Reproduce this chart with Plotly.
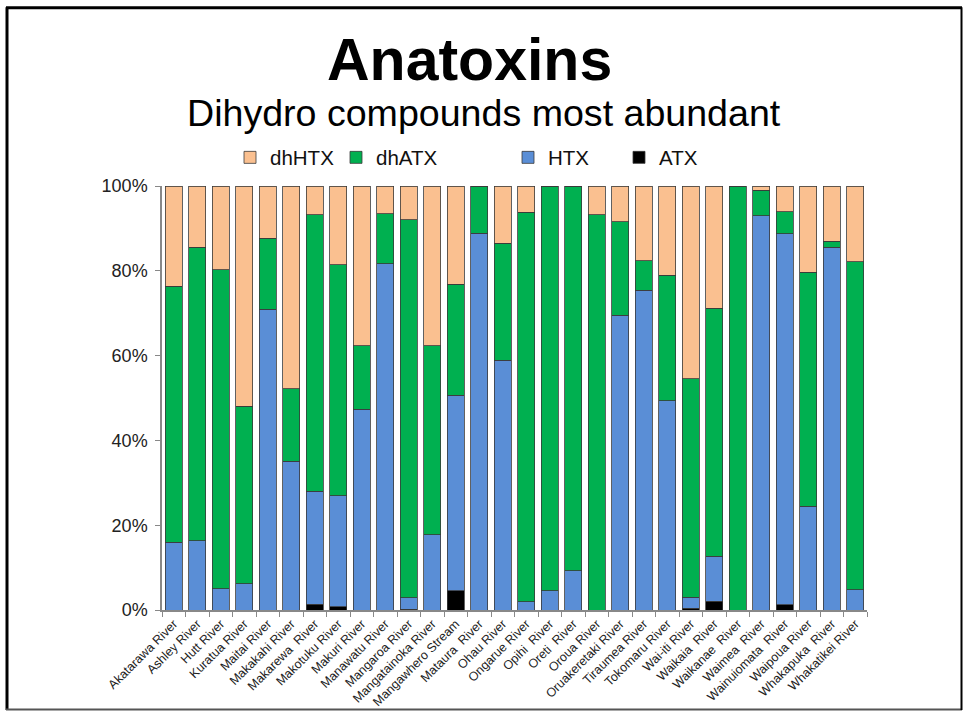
import plotly.graph_objects as go

categories = [
    "Akatarawa River", "Ashley River", "Hutt River", "Kuratua River", "Maitai River",
    "Makakahi River", "Makarewa\u00a0 River", "Makotuku River", "Makuri River", "Manawatu River",
    "Mangaroa River", "Mangatainoka River", "Mangawhero Stream", "Mataura\u00a0 River", "Ohau River",
    "Ongarue River", "Opihi\u00a0 River", "Oreti\u00a0 River", "Oroua River", "Oruakeretaki River",
    "Tiraumea River", "Tokomaru River", "Wai-iti River", "Waikaia\u00a0 River", "Waikanae\u00a0 River",
    "Waimea\u00a0 River", "Wainuiomata\u00a0 River", "Waipoua River", "Whakapuka\u00a0 River", "Whakatikei River",
]

atx = [0, 0, 0, 0, 0, 0, 1.4, 0.8, 0, 0, 0.2, 0, 4.5, 0, 0,
       0, 0, 0, 0, 0, 0, 0, 0.4, 2.1, 0, 0, 1.2, 0, 0, 0]
htx = [16.0, 16.3, 5.0, 6.2, 70.9, 35.1, 26.6, 26.2, 47.3, 81.7, 2.7, 17.7, 46.2, 88.8, 58.9,
       1.9, 4.5, 9.2, 0, 69.5, 75.4, 49.4, 2.6, 10.6, 0, 93.0, 87.5, 24.5, 85.5, 4.8]
dhatx = [60.4, 69.2, 75.3, 41.9, 16.8, 17.1, 65.2, 54.4, 15.0, 11.7, 89.2, 44.6, 26.1, 11.1, 27.6,
         91.9, 95.5, 90.8, 93.2, 22.1, 7.0, 29.5, 51.6, 58.5, 100, 6.0, 5.2, 55.2, 1.5, 77.3]
dhhtx = [23.6, 14.5, 19.7, 51.9, 12.3, 47.8, 6.8, 18.6, 37.7, 6.6, 7.9, 37.7, 23.2, 0.1, 13.5,
         6.2, 0, 0, 6.8, 8.4, 17.6, 21.1, 45.4, 28.8, 0, 1.0, 6.1, 20.3, 13.0, 17.9]

series = [
    ("ATX", atx, "#000000", "legend4"),
    ("HTX", htx, "#5A8ED6", "legend3"),
    ("dhATX", dhatx, "#00B050", "legend2"),
    ("dhHTX", dhhtx, "#FAC090", "legend"),
]

FONT = "Liberation Sans, Arial, sans-serif"

fig = go.Figure()
for name, vals, color, leg in series:
    fig.add_trace(go.Bar(
        x=categories, y=vals, name=name, legend=leg,
        marker=dict(color=color, line=dict(color="#3a3a3a", width=0.8)),
    ))

# plot area in pixels: x 162..867, y 186..618
L, R, T, B = 162, 96, 186, 103
W, H = 963 - L - R, 721 - T - B


def px_x(p):
    return (p - L) / W


def px_y(p):
    return (721 - B - p) / H


leg_common = dict(orientation="h", yanchor="middle", xanchor="left",
                  font=dict(family=FONT, size=20.5, color="#111"),
                  bgcolor="rgba(0,0,0,0)", itemwidth=30)
legends = {}
# legend text starts ~40px right of the legend's left edge
for key, text_left in [("legend", 268), ("legend2", 374), ("legend3", 546), ("legend4", 657)]:
    legends[key] = dict(leg_common, x=px_x(text_left - 38), y=px_y(157))

fig.update_layout(
    width=963, height=721,
    margin=dict(l=L, r=R, t=T, b=B, pad=0),
    paper_bgcolor="white", plot_bgcolor="white",
    barmode="stack", bargap=0.29,
    font=dict(family=FONT, color="#222"),
    showlegend=True,
    **legends,
    xaxis=dict(
        type="category", tickangle=-45, tickson="boundaries",
        ticks="outside", ticklen=5, tickcolor="#888", tickwidth=1,
        showline=True, linecolor="#888", linewidth=1.5,
        tickfont=dict(family=FONT, size=12.5, color="#222"),
        showgrid=False, fixedrange=True,
    ),
    yaxis=dict(
        range=[0, 100], dtick=20, ticksuffix="%",
        ticks="outside", ticklen=5, tickcolor="#888", tickwidth=1,
        showline=True, linecolor="#888", linewidth=1.5,
        tickfont=dict(family=FONT, size=18, color="#222"),
        ticklabelstandoff=4,
        showgrid=False, zeroline=False, fixedrange=True,
    ),
    annotations=[
        dict(text="<b>Anatoxins</b>", x=px_x(469), y=px_y(58), xref="paper", yref="paper",
             xanchor="center", yanchor="middle", showarrow=False,
             font=dict(family=FONT, size=59, color="#000")),
        dict(text="Dihydro compounds most abundant", x=px_x(484), y=px_y(112),
             xref="paper", yref="paper", xanchor="center", yanchor="middle", showarrow=False,
             font=dict(family=FONT, size=37.6, color="#000")),
    ],
    shapes=[
        dict(type="line", xref="paper", yref="paper", x0=px_x(7), x1=px_x(7),
             y0=px_y(4), y1=px_y(720), line=dict(color="#000", width=3)),
        dict(type="line", xref="paper", yref="paper", x0=px_x(6), x1=px_x(962),
             y0=px_y(4.5), y1=px_y(4.5), line=dict(color="#000", width=3)),
        dict(type="line", xref="paper", yref="paper", x0=px_x(6), x1=px_x(962),
             y0=px_y(719.5), y1=px_y(719.5), line=dict(color="#555", width=2)),
        dict(type="line", xref="paper", yref="paper", x0=px_x(961.5), x1=px_x(961.5),
             y0=px_y(4), y1=px_y(720), line=dict(color="#000", width=2)),
    ],
)

fig.write_html(
    "out.html",
    config={"displayModeBar": False},
    post_script="document.body.style.margin='0px';document.body.style.overflow='hidden';",
)
